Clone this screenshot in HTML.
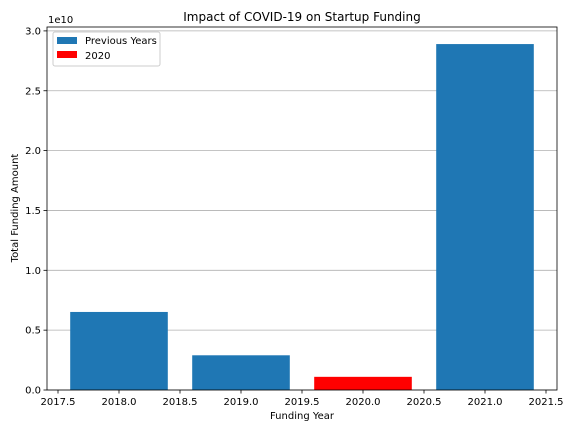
<!DOCTYPE html>
<html><head><meta charset="utf-8"><style>
body{margin:0;background:#fff;font-family:"Liberation Sans","DejaVu Sans",sans-serif;}
</style></head><body>
<svg width="576" height="432" xmlns="http://www.w3.org/2000/svg" style="font-family:'DejaVu Sans','Liberation Sans',sans-serif">
<rect width="576" height="432" fill="#fff"/>
<g id="grid"></g>
<g id="bars"></g>
<g id="axes"></g>
<text x="302" y="21" font-size="12" text-anchor="middle">Impact of COVID-19 on Startup Funding</text>
<text x="302" y="419" font-size="10" text-anchor="middle">Funding Year</text>
<text x="18" y="208" font-size="10" text-anchor="middle" transform="rotate(-90 18 208)">Total Funding Amount</text>
<text x="48" y="23" font-size="10">1e10</text>
<g>
<rect x="53" y="32" width="107" height="34" fill="#fff" stroke="#ccc" rx="2"/>
<g><rect x="57" y="37" width="20" height="7" fill="#1f77b4"/><text x="85" y="44" font-size="10">Previous Years</text></g>
<g><rect x="57" y="51" width="20" height="7" fill="#ff0000"/><text x="85" y="59" font-size="10">2020</text></g>
</g>
</svg>
<script>
const years=[2018,2019,2020,2021];
const values=[0.652,0.29,0.11,2.89];
const colors=["#1f77b4","#1f77b4","#ff0000","#1f77b4"];
const xTicks=[2017.5,2018.0,2018.5,2019.0,2019.5,2020.0,2020.5,2021.0,2021.5];
const yTicks=[0,0.5,1.0,1.5,2.0,2.5,3.0];
const L=47,R=557,T=27,B=390;
const x=v=>58+(v-2017.5)*122;
const y=v=>B-v*119.7;
const NS="http://www.w3.org/2000/svg";
function mk(t,a,p){const e=document.createElementNS(NS,t);for(const k in a)e.setAttribute(k,a[k]);p.appendChild(e);return e;}
const g=document.getElementById('grid'),b=document.getElementById('bars'),ax=document.getElementById('axes');
yTicks.forEach(v=>{
 const l=mk('line',{x1:L,x2:R,y1:y(v),y2:y(v),stroke:'#b0b0b0','stroke-width':0.8},g);
 
 
 mk('line',{x1:L-3.5,x2:L,y1:y(v),y2:y(v),stroke:'#000','stroke-width':0.8},ax);
 const t=mk('text',{x:L-6,y:y(v)+3.5,'font-size':10,'text-anchor':'end'},ax);
 t.textContent=v.toFixed(1);
 
 
});
years.forEach((yr,i)=>{
 const r=mk('rect',{x:x(yr-0.4),width:x(yr+0.4)-x(yr-0.4),y:y(values[i]),height:B-y(values[i]),fill:colors[i]},b);
 
 
});
xTicks.forEach(v=>{
 mk('line',{x1:x(v),x2:x(v),y1:B,y2:B+3.5,stroke:'#000','stroke-width':0.8},ax);
 const t=mk('text',{x:x(v),y:B+15,'font-size':10,'text-anchor':'middle'},ax);
 t.textContent=v.toFixed(1);
 
 
});
const f=mk('rect',{x:L,y:T,width:R-L,height:B-T,fill:'none',stroke:'#000','stroke-width':0.8},ax);


</script>
</body></html>
